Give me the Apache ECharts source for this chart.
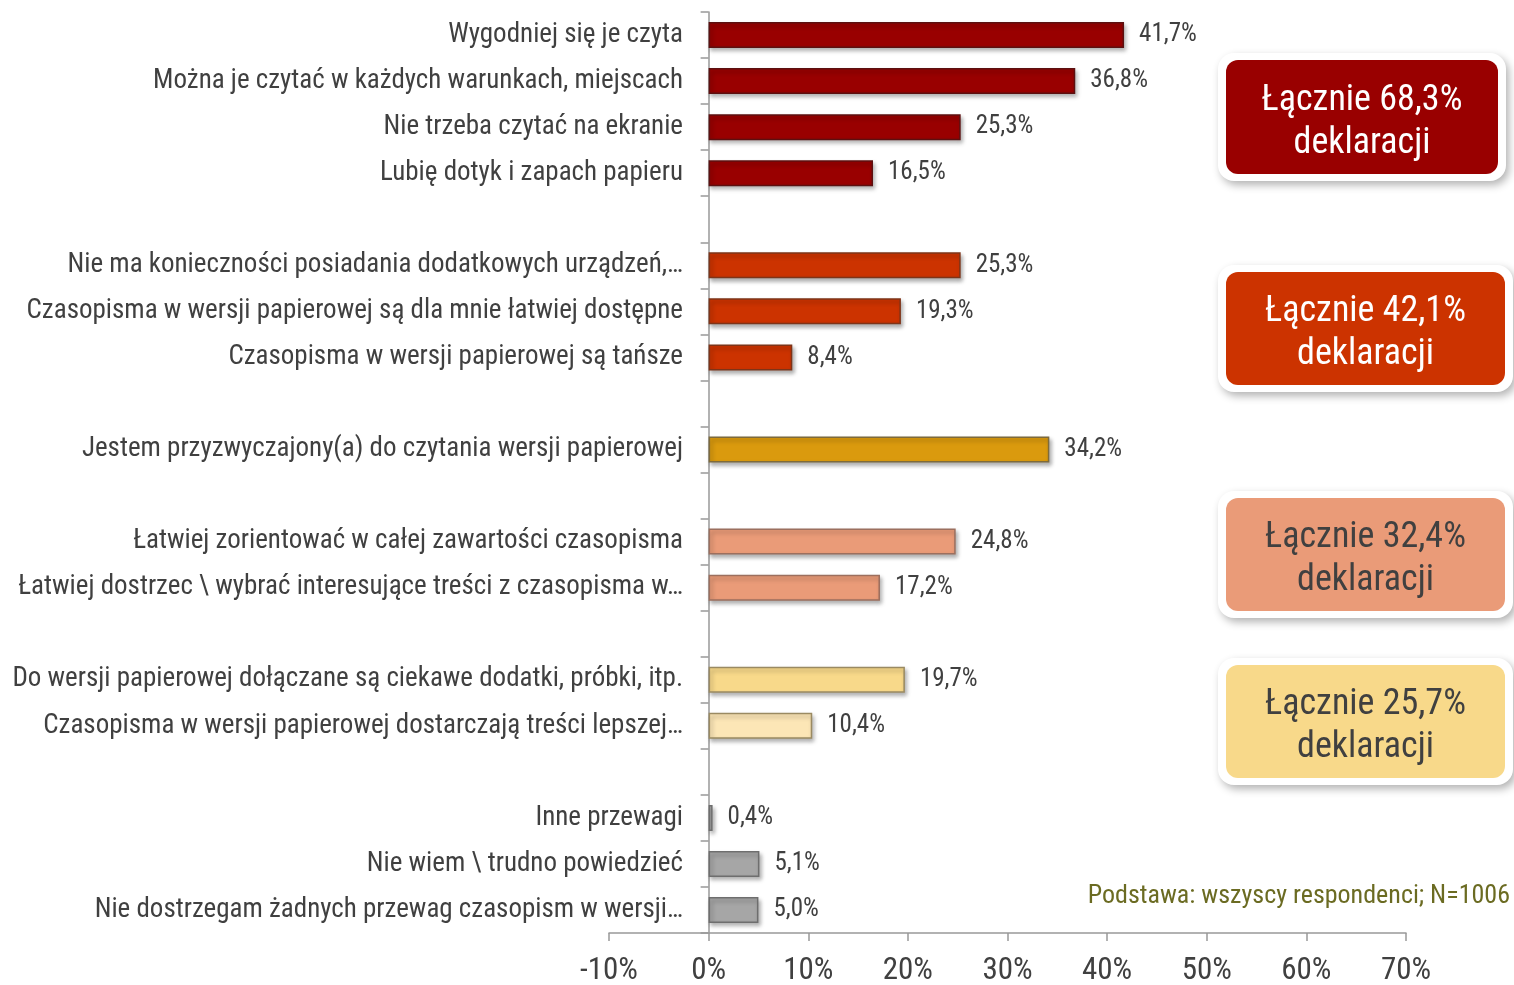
<!DOCTYPE html>
<html>
<head>
<meta charset="utf-8">
<title>Przewagi wersji papierowej</title>
<script src="https://cdn.jsdelivr.net/npm/echarts@6/dist/echarts.min.js"></script>
<style>
html,body{margin:0;padding:0;background:#fff;}
#c1{width:1514px;height:985px;}
</style>
</head>
<body>
<div id="c1"></div>
<script type="text/javascript">
// categories top to bottom, '' = gap between groups
var categories = [
  'Wygodniej się je czyta',
  'Można je czytać w każdych warunkach, miejscach',
  'Nie trzeba czytać na ekranie',
  'Lubię dotyk i zapach papieru',
  '',
  'Nie ma konieczności posiadania dodatkowych urządzeń,…',
  'Czasopisma w wersji papierowej są dla mnie łatwiej dostępne',
  'Czasopisma w wersji papierowej są tańsze',
  ' ',
  'Jestem przyzwyczajony(a) do czytania wersji papierowej',
  '  ',
  'Łatwiej zorientować w całej zawartości czasopisma',
  'Łatwiej dostrzec \\ wybrać interesujące treści z czasopisma w…',
  '   ',
  'Do wersji papierowej dołączane są ciekawe dodatki, próbki, itp.',
  'Czasopisma w wersji papierowej dostarczają treści lepszej…',
  '    ',
  'Inne przewagi',
  'Nie wiem \\ trudno powiedzieć',
  'Nie dostrzegam żadnych przewag czasopism w wersji…'
];
var values = [41.7, 36.8, 25.3, 16.5, null, 25.3, 19.3, 8.4, null, 34.2, null, 24.8, 17.2, null, 19.7, 10.4, null, 0.4, 5.1, 5.0];
var barColors = ['#990000','#990000','#990000','#990000', null,
  '#CC3300','#CC3300','#CC3300', null, '#DA9A0E', null,
  '#EA9B78','#EA9B78', null, '#F8D98A','#FCE6B6', null,
  '#A6A6A6','#A6A6A6','#A6A6A6'];
var borderColors = ['#5c1010','#5c1010','#5c1010','#5c1010', null,
  '#7e3418','#7e3418','#7e3418', null, '#7d6a3c', null,
  '#9c6f5e','#9c6f5e', null, '#9a8a62','#9a8a62', null,
  '#6e6e6e','#6e6e6e','#6e6e6e'];
var xTicks = [-10, 0, 10, 20, 30, 40, 50, 60, 70];

var boxTitles = ['Łącznie 68,3%', 'Łącznie 42,1%', 'Łącznie 32,4%', 'Łącznie 25,7%'];
var boxColors = ['#990000', '#CC3300', '#EA9B78', '#F8D98A'];
var boxTextColors = ['#ffffff', '#ffffff', '#404040', '#404040'];
var boxRects = [[1226, 60, 272, 114], [1226, 272, 279, 113], [1226, 498, 279, 113], [1226, 665, 279, 113]];

var FONT = '"Liberation Sans Narrow", "Arial Narrow", "Roboto Condensed", sans-serif';

function fmt(v){ return v.toFixed(1).replace('.', ',') + '%'; }

var chart = echarts.init(document.getElementById('c1'));

var seriesData = values.map(function(v, i){
  if (v === null) return '-';
  return {
    value: v,
    itemStyle: {
      color: barColors[i],
      borderColor: borderColors[i],
      borderWidth: 1.5,
      shadowBlur: 4,
      shadowOffsetX: 2,
      shadowOffsetY: 3,
      shadowColor: 'rgba(0,0,0,0.3)'
    }
  };
});

var graphics = [];
for (var i = 0; i < boxRects.length; i++) {
  var b = boxRects[i];
  graphics.push({
    type: 'rect',
    shape: { x: b[0] - 8, y: b[1] - 7, width: b[2] + 16, height: b[3] + 14, r: 16 },
    style: { fill: '#fff', shadowBlur: 8, shadowOffsetX: 3, shadowOffsetY: 4, shadowColor: 'rgba(0,0,0,0.3)' },
    z: 10
  });
  graphics.push({
    type: 'rect',
    shape: { x: b[0], y: b[1], width: b[2], height: b[3], r: 12 },
    style: { fill: boxColors[i] },
    z: 11
  });
  graphics.push({
    type: 'text',
    x: b[0] + b[2] / 2, y: b[1] + b[3] / 2 + 5,
    style: {
      text: boxTitles[i] + '\ndeklaracji',
      fill: boxTextColors[i],
      font: '36px ' + FONT,
      lineHeight: 43,
      align: 'center',
      verticalAlign: 'middle'
    },
    z: 12
  });
}
graphics.push({
  type: 'text',
  right: 4, top: 883,
  style: {
    text: 'Podstawa: wszyscy respondenci; N=1006',
    fill: '#6B6B22',
    font: '26px ' + FONT,
    align: 'right'
  },
  z: 12
});

var option = {
  animation: false,
  grid: { left: 609, right: 108, top: 12, bottom: 52, containLabel: false, outerBoundsMode: 'none' },
  xAxis: {
    type: 'value',
    min: xTicks[0],
    max: xTicks[xTicks.length - 1],
    interval: 10,
    axisLine: { show: true, lineStyle: { color: '#999', width: 1.5 } },
    axisTick: { show: true, length: 8, lineStyle: { color: '#999', width: 1.5 } },
    splitLine: { show: false },
    axisLabel: {
      formatter: '{value}%',
      color: '#404040',
      fontSize: 31,
      fontFamily: FONT,
      margin: 23
    }
  },
  yAxis: {
    type: 'category',
    inverse: true,
    data: categories,
    axisLine: { show: true, onZero: true, lineStyle: { color: '#999', width: 1.5 } },
    axisTick: { show: true, length: 8, lineStyle: { color: '#999', width: 1.5 } },
    axisLabel: {
      color: '#404040',
      fontSize: 27,
      fontFamily: FONT,
      margin: -74,
      padding: [4, 0, 0, 0]
    }
  },
  series: [{
    type: 'bar',
    barWidth: 26,
    data: seriesData,
    label: {
      show: true,
      position: 'right',
      distance: 15,
      color: '#404040',
      fontSize: 25,
      fontFamily: FONT,
      padding: [3, 0, 0, 0],
      formatter: function(p){ return fmt(p.value); }
    }
  }],
  graphic: graphics
};

chart.setOption(option);
</script>
</body>
</html>
